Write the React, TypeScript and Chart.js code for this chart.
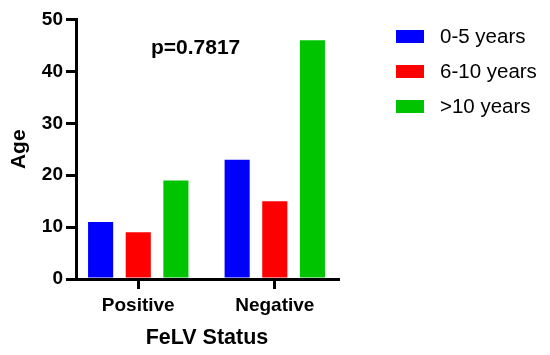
import React, { useEffect, useRef } from "react";
import { Chart, registerables } from "chart.js";

Chart.register(...registerables);

const categories = ["Positive", "Negative"];
const seriesLabels = ["0-5 years", "6-10 years", ">10 years"];
const years0to5 = [11, 23];
const years6to10 = [9, 15];
const yearsOver10 = [19, 46];
const seriesColors = ["#0000ff", "#ff0000", "#00c400"];
const yTickValues = [0, 10, 20, 30, 40, 50];
const pValueText = "p=0.7817";

const FONT = "Arial, 'Liberation Sans', sans-serif";

const overlayPlugin = {
  id: "overlay",
  afterDraw(chart: any) {
    const ctx = chart.ctx;
    ctx.save();
    // p-value annotation
    ctx.fillStyle = "#000";
    ctx.font = `bold 21px ${FONT}`;
    ctx.textAlign = "center";
    ctx.textBaseline = "middle";
    const xs = chart.scales.x;
    const ys = chart.scales.y;
    ctx.fillText(pValueText, xs.getPixelForValue(0.42), ys.getPixelForValue(44.5));
    // legend
    ctx.textAlign = "left";
    ctx.font = `20.5px ${FONT}`;
    chart.data.datasets.forEach((ds: any, i: number) => {
      const cy = 36.5 + i * 35;
      ctx.fillStyle = ds.backgroundColor;
      ctx.fillRect(396, cy - 6.5, 28, 13);
      ctx.fillStyle = "#000";
      ctx.fillText(ds.label, 440, cy + 1);
    });
    ctx.restore();
  },
};

export default function App() {
  const ref = useRef<HTMLCanvasElement>(null);
  useEffect(() => {
    document.body.style.margin = "0";
    const seriesData = [years0to5, years6to10, yearsOver10];
    const chart = new Chart(ref.current!, {
      type: "bar",
      data: {
        datasets: seriesData.map((vals, s) => ({
          label: seriesLabels[s],
          data: categories.map((_, i) => ({ x: i, y: vals[i] })),
          backgroundColor: seriesColors[s],
          borderWidth: 0,
          categoryPercentage: 0.827,
          barPercentage: 0.667,
        })),
      },
      options: {
        animation: false,
        responsive: false,
        maintainAspectRatio: false,
        layout: { padding: { top: 19.5, right: 212, left: 0, bottom: 0 } },
        plugins: { legend: { display: false }, tooltip: { enabled: false } },
        scales: {
          x: {
            type: "linear",
            offset: false,
            min: -0.456,
            max: 1.463,
            afterBuildTicks: (s: any) => {
              s.ticks = categories.map((_, i) => ({ value: i }));
            },
            afterFit: (s: any) => {
              s.height = 76;
            },
            ticks: {
              callback: (v: any) => categories[v] ?? "",
              color: "#000",
              font: { family: FONT, size: 19, weight: "bold" },
              padding: 5,
              maxRotation: 0,
            },
            border: { display: true, color: "#000", width: 3 },
            grid: {
              display: true,
              drawOnChartArea: false,
              drawTicks: true,
              tickLength: 10,
              color: "#000",
              lineWidth: 3,
              offset: false,
            },
            title: {
              display: true,
              text: "FeLV Status",
              color: "#000",
              font: { family: FONT, size: 21.5, weight: "bold" },
              padding: { top: 0, bottom: 4 },
            },
          },
          y: {
            min: 0,
            max: 50,
            afterBuildTicks: (s: any) => {
              s.ticks = yTickValues.map((v) => ({ value: v }));
            },
            afterFit: (s: any) => {
              s.width = 76;
            },
            ticks: {
              color: "#000",
              font: { family: FONT, size: 19, weight: "bold" },
              padding: 3,
            },
            border: { display: true, color: "#000", width: 3 },
            grid: {
              display: true,
              drawOnChartArea: false,
              drawTicks: true,
              tickLength: 10,
              color: "#000",
              lineWidth: 3,
            },
            title: {
              display: true,
              text: "Age",
              color: "#000",
              font: { family: FONT, size: 21, weight: "bold" },
              padding: { top: 7, bottom: 0 },
            },
          },
        },
      },
      plugins: [overlayPlugin],
    } as any);
    return () => chart.destroy();
  }, []);
  return (
    <div style={{ position: "absolute", left: 0, top: 0, width: 550, height: 355 }}>
      <canvas ref={ref} width={550} height={355} style={{ width: 550, height: 355, display: "block" }} />
    </div>
  );
}
